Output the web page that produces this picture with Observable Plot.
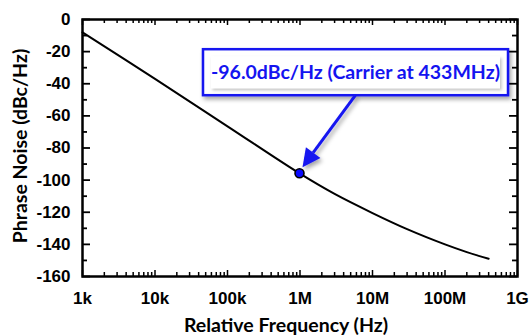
<!DOCTYPE html>
<html>
<head>
<meta charset="utf-8">
<script src="https://cdn.jsdelivr.net/npm/d3@7"></script>
<script src="https://cdn.jsdelivr.net/npm/@observablehq/plot@0.6"></script>
<style>
  html, body { margin: 0; padding: 0; background: #fff; }
</style>
</head>
<body>
<div id="chart"></div>
<script>
// ---- data ----
const freqHz = [1e3, 1e4, 1e5, 1e6, 3e6, 1e7, 3e7, 1e8, 2e8, 3e8, 4e8];
const phaseNoiseDb = [-8, -37, -66.5, -96, -108.6, -120.5, -130.5, -140, -144.8, -147.3, -149];
const xTickValues = [1e3, 1e4, 1e5, 1e6, 1e7, 1e8, 1e9];
const xTickLabels = ["1k", "10k", "100k", "1M", "10M", "100M", "1G"];
const yTickValues = [0, -20, -40, -60, -80, -100, -120, -140, -160];
const yMinorValues = [-10, -30, -50, -70, -90, -110, -130, -150];
const markerFreq = [1e6];
const markerDb = [-96];
const annotationText = "-96.0dBc/Hz (Carrier at 433MHz)";
const xTitle = "Relative Frequency (Hz)";
const yTitle = "Phrase Noise (dBc/Hz)";

// derived
const xMinorValues = xTickValues.slice(0, -1).flatMap(d => [2,3,4,5,6,7,8,9].map(k => k * d));
const curve = freqHz.map((f, i) => ({f, db: phaseNoiseDb[i]}));
const marker = markerFreq.map((f, i) => ({f, db: markerDb[i]}));

// ---- layout ----
const W = 531, H = 336, mt = 19, mb = 60, ml = 82, mr = 14;
const innerH = H - mt - mb, innerW = W - ml - mr;
const tickFont = "'Liberation Sans', Arial, sans-serif";
const titleFont = "Lato, 'Open Sans', sans-serif";

const chart = Plot.plot({
  width: W, height: H,
  marginTop: mt, marginBottom: mb, marginLeft: ml, marginRight: mr,
  x: {type: "log", domain: [1e3, 1e9]},
  y: {domain: [-160, 0]},
  style: {fontFamily: tickFont, fontSize: "17px", fontWeight: "bold", color: "#000", background: "#fff", overflow: "visible"},
  marks: [
    Plot.axisX(xTickValues, {tickSize: 0, tickPadding: 15, label: null,
      tickFormat: d => xTickLabels[xTickValues.indexOf(d)], fontSize: 17, fontWeight: "bold"}),
    Plot.axisY(yTickValues, {tickSize: 0, tickPadding: 12, label: null,
      tickFormat: d => String(d), fontSize: 17, fontWeight: "bold"}),
    // inward ticks, bottom & top
    Plot.tickX(xTickValues, {x: d => d, insetTop: innerH - 6, strokeWidth: 1.5}),
    Plot.tickX(xTickValues, {x: d => d, insetBottom: innerH - 6, strokeWidth: 1.5}),
    Plot.tickX(xMinorValues, {x: d => d, insetTop: innerH - 4, strokeWidth: 1.5}),
    Plot.tickX(xMinorValues, {x: d => d, insetBottom: innerH - 4, strokeWidth: 1.5}),
    // inward ticks, left & right
    Plot.tickY(yTickValues, {y: d => d, insetRight: innerW - 8, strokeWidth: 1.8}),
    Plot.tickY(yTickValues, {y: d => d, insetLeft: innerW - 8, strokeWidth: 1.8}),
    Plot.tickY(yMinorValues, {y: d => d, insetRight: innerW - 5, strokeWidth: 1.8}),
    Plot.tickY(yMinorValues, {y: d => d, insetLeft: innerW - 5, strokeWidth: 1.8}),
    Plot.frame({stroke: "#000", strokeWidth: 2.5}),
    Plot.line(curve, {x: "f", y: "db", curve: "catmull-rom", stroke: "#000", strokeWidth: 2}),
    Plot.text([xTitle], {frameAnchor: "bottom", lineAnchor: "middle", textAnchor: "middle", dy: 49, dx: -14, fontSize: 19.5, fontFamily: titleFont, fontWeight: "bold"}),
    Plot.text([yTitle], {frameAnchor: "left", lineAnchor: "middle", textAnchor: "middle", rotate: -90, dx: -62, dy: -2, fontSize: 19.5, fontFamily: titleFont, fontWeight: "bold"})
  ]
});
document.getElementById("chart").appendChild(chart);

// ---- annotation (positioned through the plot's scales) ----
const sx = chart.scale("x"), sy = chart.scale("y");
const svg = d3.select(chart);
const defs = svg.append("defs");
const sh = defs.append("filter").attr("id", "shadow").attr("x", "-20%").attr("y", "-40%").attr("width", "150%").attr("height", "200%");
sh.append("feDropShadow").attr("dx", 2).attr("dy", 3).attr("stdDeviation", 2.2).attr("flood-color", "#000").attr("flood-opacity", 0.35);
const sh2 = defs.append("filter").attr("id", "shadow2").attr("x", "-20%").attr("y", "-40%").attr("width", "150%").attr("height", "200%");
sh2.append("feDropShadow").attr("dx", 1.5).attr("dy", 2).attr("stdDeviation", 1.5).attr("flood-color", "#000").attr("flood-opacity", 0.25);

const blue = "#1414f0";
marker.forEach(m => {
  const px = sx.apply(m.f), py = sy.apply(m.db);
  const boxCx = px + 56, boxCy = py - 101, boxW = 305, boxH = 46;
  const g = svg.append("g");
  // box
  g.append("rect").attr("x", boxCx - boxW / 2).attr("y", boxCy - boxH / 2)
    .attr("width", boxW).attr("height", boxH).attr("fill", "#fff")
    .attr("stroke", blue).attr("stroke-width", 2.5).attr("filter", "url(#shadow)");
  g.append("rect").attr("x", boxCx - boxW / 2 + 8).attr("y", boxCy - 16)
    .attr("width", boxW - 16).attr("height", 32).attr("fill", "#fff").attr("filter", "url(#shadow2)");
  g.append("text").attr("x", boxCx).attr("y", boxCy).attr("dy", "0.35em")
    .attr("text-anchor", "middle").attr("fill", blue)
    .style("font-family", titleFont).style("font-size", "19.5px").style("font-weight", "bold")
    .text(annotationText);
  // arrow
  const x0 = boxCx, y0 = boxCy + boxH / 2, x1 = px + 3, y1 = py - 6;
  const ang = Math.atan2(y1 - y0, x1 - x0);
  const hl = 18, hw = 9;
  const bx = x1 - hl * Math.cos(ang), by = y1 - hl * Math.sin(ang);
  const ag = g.append("g").attr("filter", "url(#shadow)");
  ag.append("line").attr("x1", x0).attr("y1", y0).attr("x2", bx).attr("y2", by)
    .attr("stroke", blue).attr("stroke-width", 3);
  ag.append("path").attr("d", `M${x1},${y1}L${bx - hw * Math.sin(ang)},${by + hw * Math.cos(ang)}L${bx + hw * Math.sin(ang)},${by - hw * Math.cos(ang)}Z`)
    .attr("fill", blue);
});

// marker dot drawn on top
svg.append("g").selectAll("circle").data(marker).join("circle")
  .attr("cx", d => sx.apply(d.f)).attr("cy", d => sy.apply(d.db)).attr("r", 4.5)
  .attr("fill", "#0a0aff").attr("stroke", "#000").attr("stroke-width", 1.6);
</script>
</body>
</html>
